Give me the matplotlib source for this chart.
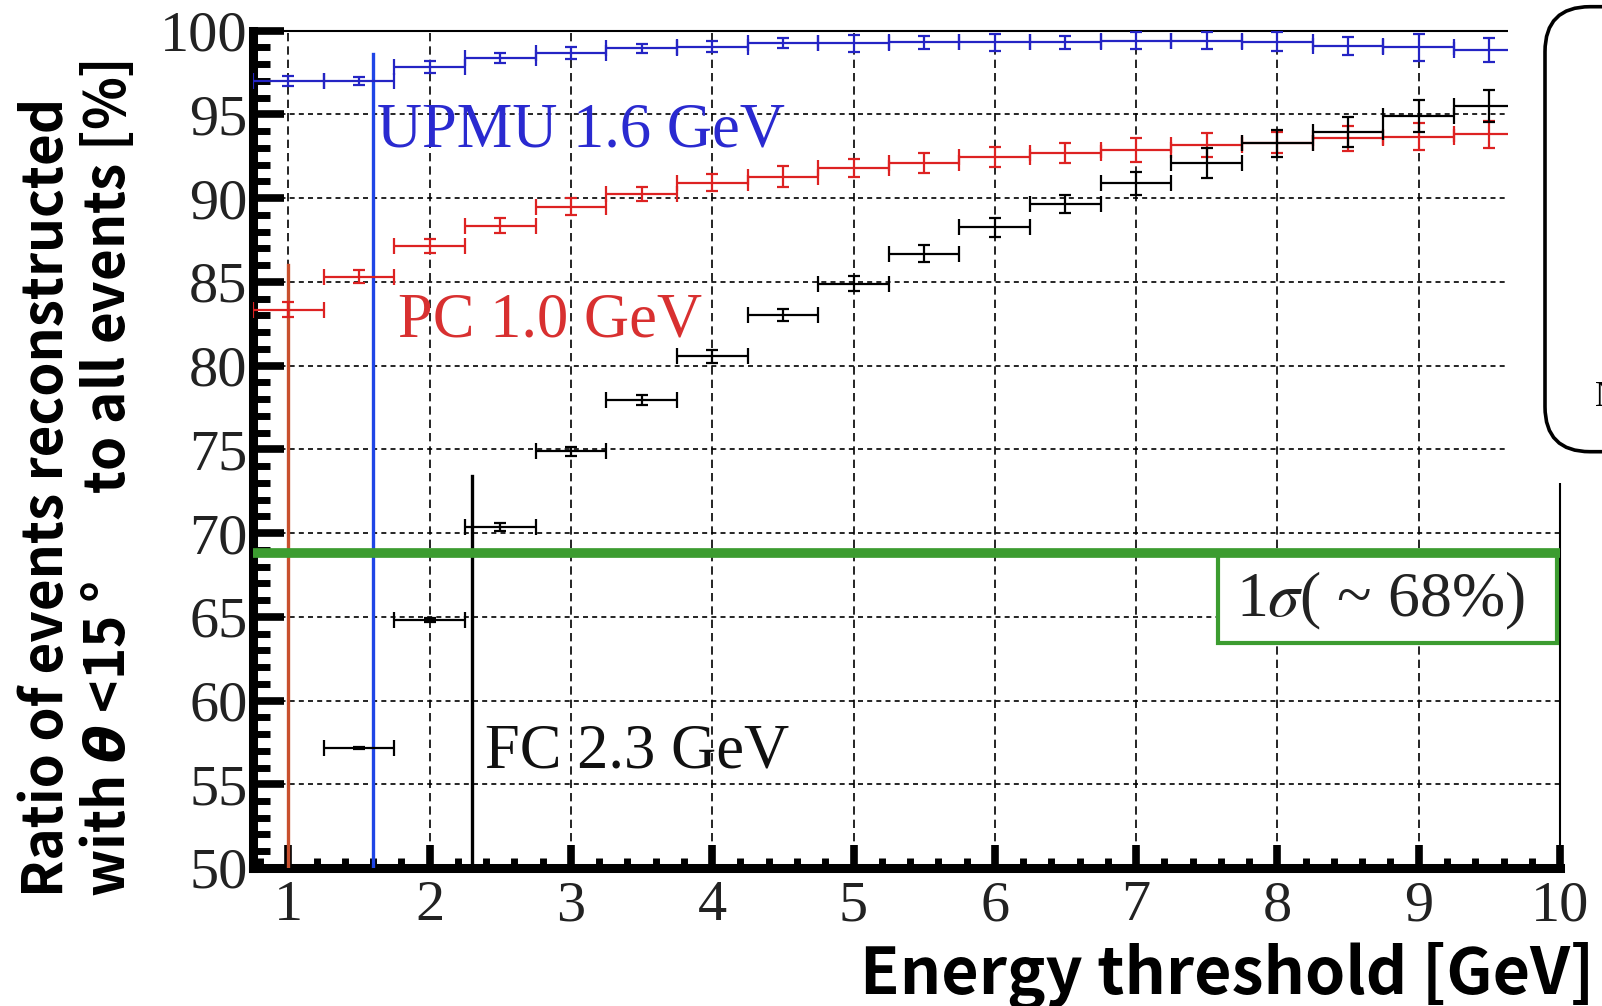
import matplotlib
matplotlib.use("Agg")
import matplotlib.pyplot as plt
from matplotlib.ticker import MultipleLocator
from matplotlib.patches import Rectangle, FancyBboxPatch
from matplotlib.transforms import IdentityTransform

plt.rcParams['font.family'] = ['Liberation Serif', 'DejaVu Serif']
plt.rcParams['mathtext.fontset'] = 'custom'
plt.rcParams['mathtext.it'] = 'DejaVu Sans:italic:bold'

# bin centres (GeV) and ratio [%]
e_bins = [1.0, 1.5, 2.0, 2.5, 3.0, 3.5, 4.0, 4.5, 5.0, 5.5, 6.0, 6.5, 7.0, 7.5, 8.0, 8.5, 9.0, 9.5]
upmu = [97.0, 97.0, 97.85, 98.35, 98.65, 98.95, 99.05, 99.25, 99.25, 99.3, 99.3, 99.3, 99.4, 99.4, 99.35, 99.1, 99.0, 98.85]
upmu_err = [0.28, 0.25, 0.35, 0.3, 0.35, 0.28, 0.33, 0.3, 0.5, 0.4, 0.5, 0.4, 0.5, 0.5, 0.55, 0.55, 0.8, 0.7]
pc = [83.33, 85.32, 87.15, 88.35, 89.5, 90.24, 90.93, 91.29, 91.79, 92.09, 92.44, 92.72, 92.88, 93.18, 93.32, 93.58, 93.67, 93.82]
pc_err = [0.45, 0.4, 0.42, 0.45, 0.5, 0.42, 0.5, 0.6, 0.55, 0.6, 0.6, 0.6, 0.7, 0.7, 0.65, 0.75, 0.8, 0.8]
fc_bins = e_bins[1:]
fc = [57.18, 64.8, 70.35, 74.88, 77.97, 80.55, 83.04, 84.89, 86.68, 88.25, 89.66, 90.89, 92.12, 93.28, 93.97, 94.91, 95.51]
fc_err = [0.05, 0.1, 0.25, 0.25, 0.3, 0.4, 0.35, 0.45, 0.5, 0.55, 0.55, 0.7, 0.9, 0.8, 0.9, 0.95, 0.95]
bin_half = 0.25

# thresholds and their upper ends
thr_pc, thr_pc_top = 1.0, 86.0
thr_upmu, thr_upmu_top = 1.6, 98.6
thr_fc, thr_fc_top = 2.3, 73.4
sigma_level = 68.8

c_blue = '#2424c4'
c_red = '#dd2222'

fig = plt.figure(figsize=(16.02, 10.06), dpi=100)
ax = fig.add_axes([0.1579, 0.1372, 0.8159, 0.8323])
ax.set_xlim(0.75, 10)
ax.set_ylim(50, 100)

# grid
for yv in range(55, 100, 5):
    ax.axhline(yv, color='k', lw=1.2, dashes=(3, 2.5), zorder=1)
for xv in range(1, 10):
    ax.axvline(xv, color='k', lw=1.2, dashes=(5, 3), zorder=1)


def draw_series(x, y, yerr, color):
    ax.errorbar(x, y, xerr=bin_half, fmt='none', ecolor=color, elinewidth=1.6,
                capsize=6, capthick=1.6, zorder=4)
    ax.errorbar(x, y, yerr=yerr, fmt='none', ecolor=color, elinewidth=1.6,
                capsize=4.5, capthick=1.6, zorder=4)


draw_series(e_bins, upmu, upmu_err, c_blue)
draw_series(e_bins, pc, pc_err, c_red)
draw_series(fc_bins, fc, fc_err, 'k')

ax.plot([thr_pc, thr_pc], [50, thr_pc_top], color='#c8502d', lw=2.4, zorder=3)
ax.plot([thr_upmu, thr_upmu], [50, thr_upmu_top], color='#1f45e6', lw=2.4, zorder=3)
ax.plot([thr_fc, thr_fc], [50, thr_fc_top], color='k', lw=2.4, zorder=3)

ax.text(1.63, 93.11, 'UPMU 1.6 GeV', color='#2a2ad0', fontsize=45, va='baseline', zorder=5)
ax.text(1.775, 81.71, 'PC 1.0 GeV', color='#d83030', fontsize=45, va='baseline', zorder=5)
ax.text(2.39, 56.0, 'FC 2.3 GeV', color='#111111', fontsize=45, va='baseline', zorder=5)

# 1 sigma line and box
ax.plot([0.75, 10], [sigma_level, sigma_level], color='#3c9c30', lw=7,
        solid_capstyle='butt', zorder=6, clip_on=False)
ax.add_patch(Rectangle((7.58, 63.46), 9.98 - 7.58, sigma_level - 63.46,
                       facecolor='white', edgecolor='#3c9c30', lw=3, zorder=5))
ax.text(8.73, 65.0, r'1$\sigma$( ~ 68%)', fontsize=46, ha='center', va='baseline',
        math_fontfamily='stix', zorder=7, color='#222222')

# axes look
ax.xaxis.set_major_locator(MultipleLocator(1))
ax.xaxis.set_minor_locator(MultipleLocator(0.2))
ax.yaxis.set_major_locator(MultipleLocator(5))
ax.yaxis.set_minor_locator(MultipleLocator(1))
ax.tick_params(axis='x', which='major', direction='in', length=16.5, width=5.5,
               labelsize=42, pad=9, top=False)
ax.tick_params(axis='x', which='minor', direction='in', length=7.5, width=5, top=False)
ax.tick_params(axis='y', which='major', direction='in', length=22, width=5.5,
               labelsize=42, pad=4, right=False)
ax.tick_params(axis='y', which='minor', direction='in', length=12.5, width=5, right=False)
for lab in ax.get_xticklabels() + ax.get_yticklabels():
    lab.set_color('#222222')

ax.spines['left'].set_linewidth(6.5)
ax.spines['bottom'].set_linewidth(6.5)
ax.spines['top'].set_linewidth(1.5)
ax.spines['right'].set_linewidth(1.5)
ax.spines['top'].set_bounds(0.75, 9.63)
ax.spines['right'].set_bounds(50, 73.0)

# white cut-out at the upper right and the clipped rounded box
fig.add_artist(Rectangle((1508, 1006 - 483), 200, 493, transform=IdentityTransform(),
                         facecolor='white', edgecolor='none', zorder=3))
fig.add_artist(FancyBboxPatch((1545, 1006 - 451.7), 200, 445,
                              boxstyle='round,pad=0,rounding_size=45',
                              transform=IdentityTransform(), facecolor='white',
                              edgecolor='k', lw=2.6, zorder=4))
fig.text(1595 / 1602, 1 - 398 / 1006, 'N', fontsize=25, va='center', ha='left', zorder=5)

# axis titles
sans = ['Noto Sans CJK JP', 'DejaVu Sans']
fig.text(46 / 1602, 1 - 897 / 1006, 'Ratio of events reconstructed', rotation=90,
         rotation_mode='anchor', ha='left', va='center', fontsize=39.5,
         fontweight='bold', family=sans)
fig.text(107 / 1602, 1 - 897 / 1006, r'with $\theta$ <15 °       to all events [%]', rotation=90,
         rotation_mode='anchor', ha='left', va='center', fontsize=39.5,
         fontweight='bold', family=sans, math_fontfamily='custom')
fig.text(1594 / 1602, 1 - 994 / 1006, 'Energy threshold [GeV]', ha='right', va='baseline',
         fontsize=46.5, fontweight='bold', family=sans)

fig.savefig('out.png', dpi=100)
